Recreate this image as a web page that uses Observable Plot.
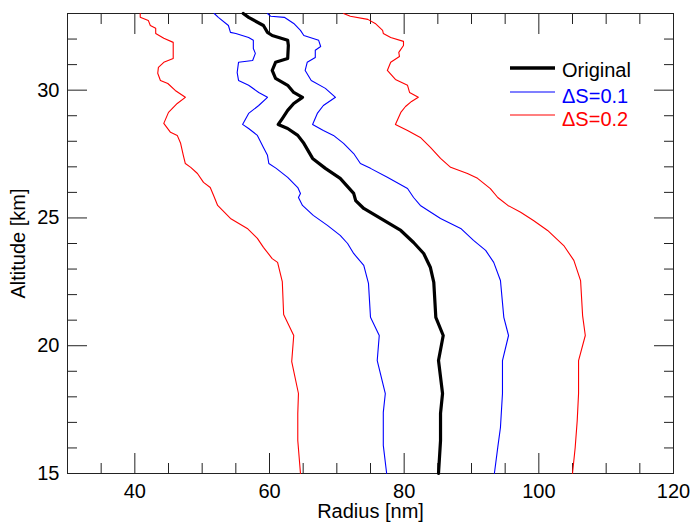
<!DOCTYPE html>
<html>
<head>
<meta charset="utf-8">
<script src="https://cdn.jsdelivr.net/npm/d3@7"></script>
<script src="https://cdn.jsdelivr.net/npm/@observablehq/plot@0.6"></script>
<style>
  html, body { margin: 0; padding: 0; background: #fff; }
  #wrap { position: relative; width: 691px; height: 523px; }
  #legend { position: absolute; left: 0; top: 0; pointer-events: none; }
</style>
</head>
<body>
<div id="wrap"></div>
<script>
// Series: [altitude km, radius nm]
const original = [[33.0,56.1],[32.85,56.9],[32.53,59.1],[32.26,59.7],[32.14,60.4],[31.95,62.7],[31.75,62.8],[31.24,62.7],[31.09,60.9],[30.77,60.4],[30.46,60.9],[30.19,62.7],[29.91,63.6],[29.72,64.9],[29.48,63.6],[29.21,62.7],[28.89,61.9],[28.66,61.3],[28.50,62.7],[28.23,64.2],[27.92,65.1],[27.33,66.4],[26.94,68.3],[26.55,70.5],[25.96,72.5],[25.68,72.8],[25.37,74.0],[24.98,76.5],[24.51,79.5],[24.04,81.4],[23.61,82.9],[23.06,83.9],[22.48,84.4],[21.11,84.7],[20.40,85.8],[19.42,85.1],[18.13,85.7],[17.35,85.4],[16.29,85.4],[15.0,85.1]];
const ds01Low = [[33.0,51.8],[32.85,52.4],[32.53,53.9],[32.26,54.2],[32.22,55.0],[32.06,56.9],[31.95,57.6],[31.63,57.6],[31.44,57.9],[31.16,57.5],[31.09,55.4],[30.69,55.2],[30.38,55.4],[30.19,56.9],[29.91,58.4],[29.72,59.7],[29.40,58.4],[29.09,56.9],[28.66,56.0],[28.50,56.9],[28.23,58.2],[27.76,59.1],[27.45,59.7],[27.13,59.9],[26.94,61.0],[26.59,62.7],[26.19,64.2],[25.96,64.6],[25.80,64.3],[25.49,64.9],[25.10,66.5],[24.71,68.6],[24.32,70.5],[24.00,71.6],[23.61,72.5],[23.14,74.0],[22.44,74.7],[21.11,75.0],[20.40,76.3],[19.42,76.0],[18.13,77.2],[17.39,76.9],[16.10,76.9],[15.0,77.4]];
const ds01High = [[33.0,59.7],[32.89,60.2],[32.85,62.2],[32.61,63.6],[32.34,64.6],[32.14,65.1],[31.95,67.3],[31.71,67.6],[31.56,66.8],[31.28,66.8],[31.09,65.6],[30.77,65.3],[30.38,66.2],[30.07,68.3],[29.72,69.8],[29.40,68.0],[29.09,67.1],[28.66,66.4],[28.42,68.0],[28.23,69.5],[27.92,71.0],[27.52,72.5],[27.13,73.5],[26.94,75.0],[26.59,77.5],[26.15,80.5],[25.80,81.4],[25.49,82.4],[24.98,85.4],[24.59,88.4],[24.12,90.3],[23.73,92.1],[23.26,93.3],[22.55,94.3],[21.11,94.8],[20.40,95.5],[19.42,94.6],[18.13,94.6],[16.80,94.3],[16.02,93.9],[15.0,93.4]];
const ds02Low = [[33.0,40.8],[32.85,40.8],[32.73,42.0],[32.53,42.3],[32.42,43.1],[32.22,43.1],[32.03,44.3],[31.87,45.7],[31.24,45.7],[31.09,44.3],[30.89,43.5],[30.66,43.4],[30.38,43.8],[30.26,44.9],[29.99,46.0],[29.72,47.5],[29.48,46.3],[29.13,45.0],[28.70,44.3],[28.35,45.3],[28.23,46.3],[27.92,46.8],[27.45,47.2],[27.13,47.5],[26.98,48.3],[26.74,49.3],[26.39,50.2],[26.19,51.2],[25.88,51.7],[25.49,52.3],[24.98,54.2],[24.59,56.7],[24.20,58.2],[23.85,59.1],[23.41,60.4],[23.26,61.2],[22.51,61.9],[21.22,62.1],[20.40,63.6],[19.38,63.3],[18.13,64.3],[17.35,64.2],[16.29,64.2],[15.0,64.6]];
const ds02High = [[33.0,71.0],[32.89,72.0],[32.77,74.6],[32.61,75.7],[32.34,76.8],[32.22,76.9],[32.06,78.0],[31.91,79.9],[31.75,79.9],[31.48,79.2],[31.32,79.3],[31.09,78.0],[30.77,77.5],[30.42,78.7],[30.19,80.5],[29.91,80.8],[29.72,82.1],[29.56,81.1],[29.36,80.2],[29.13,79.5],[28.66,78.7],[28.42,80.5],[28.15,82.4],[27.76,83.9],[27.33,85.4],[26.98,86.9],[26.74,89.4],[26.55,90.9],[26.15,92.8],[25.80,93.9],[25.49,95.4],[25.22,97.3],[24.90,99.2],[24.51,101.3],[23.92,103.7],[23.34,105.2],[22.55,106.2],[21.18,106.5],[20.40,106.9],[19.42,105.9],[18.13,105.9],[17.07,105.7],[16.02,105.4],[15.0,105.0]];

const seriesNames = ["Original", "\u0394S=0.1", "\u0394S=0.2"];
const seriesColors = ["#000000", "#0000ff", "#ff0000"];

const xMajor = [40, 60, 80, 100, 120];
const xMinor = [35, 45, 50, 55, 65, 70, 75, 85, 90, 95, 105, 110, 115];
const yMajor = [15, 20, 25, 30];
const yMinor = [16, 17, 18, 19, 21, 22, 23, 24, 26, 27, 28, 29, 31, 32];

const toRows = (arr) => arr.map(([alt, r]) => ({alt, r}));
const axisColor = "#222";
const noText = () => "";

const chart = Plot.plot({
  width: 691,
  height: 523,
  marginLeft: 67,
  marginRight: 18,
  marginTop: 13,
  marginBottom: 50,
  style: {fontFamily: "'Liberation Sans', Arial, Helvetica, sans-serif", fontSize: "20px", color: "#000", background: "#fff"},
  x: {domain: [30, 120], label: null},
  y: {domain: [15, 33], label: null},
  marks: [
    Plot.frame({stroke: axisColor}),
    // bottom axis
    Plot.axisX(xMajor, {anchor: "bottom", tickSize: -20, tickPadding: 30, stroke: axisColor, label: "Radius [nm]", labelAnchor: "center", labelOffset: 44, labelArrow: "none"}),
    Plot.axisX(xMinor, {anchor: "bottom", tickSize: -10, tickFormat: noText, stroke: axisColor, label: null}),
    // top mirrored ticks
    Plot.axisX(xMajor, {anchor: "top", tickSize: -20, tickFormat: noText, stroke: axisColor, label: null}),
    Plot.axisX(xMinor, {anchor: "top", tickSize: -10, tickFormat: noText, stroke: axisColor, label: null}),
    // left axis
    Plot.axisY(yMajor, {anchor: "left", tickSize: -20, tickPadding: 28, stroke: axisColor, label: "Altitude [km]", labelAnchor: "center", labelOffset: 57, labelArrow: "none"}),
    Plot.axisY(yMinor, {anchor: "left", tickSize: -10, tickFormat: noText, stroke: axisColor, label: null}),
    // right mirrored ticks
    Plot.axisY(yMajor, {anchor: "right", tickSize: -20, tickFormat: noText, stroke: axisColor, label: null}),
    Plot.axisY(yMinor, {anchor: "right", tickSize: -10, tickFormat: noText, stroke: axisColor, label: null}),
    // data
    Plot.line(toRows(ds02Low), {x: "r", y: "alt", stroke: seriesColors[2], strokeWidth: 1.1}),
    Plot.line(toRows(ds02High), {x: "r", y: "alt", stroke: seriesColors[2], strokeWidth: 1.1}),
    Plot.line(toRows(ds01Low), {x: "r", y: "alt", stroke: seriesColors[1], strokeWidth: 1.1}),
    Plot.line(toRows(ds01High), {x: "r", y: "alt", stroke: seriesColors[1], strokeWidth: 1.1}),
    Plot.line(toRows(original), {x: "r", y: "alt", stroke: seriesColors[0], strokeWidth: 3.2})
  ]
});

const wrap = document.getElementById("wrap");
wrap.appendChild(chart);

// Legend overlay
const ns = "http://www.w3.org/2000/svg";
const leg = document.createElementNS(ns, "svg");
leg.setAttribute("id", "legend");
leg.setAttribute("width", 691);
leg.setAttribute("height", 523);
const lineYs = [68, 92, 115];
const textYs = [77, 103, 126];
const widths = [3.5, 1.1, 1.1];
seriesNames.forEach((name, i) => {
  const l = document.createElementNS(ns, "line");
  l.setAttribute("x1", 510); l.setAttribute("x2", 555);
  l.setAttribute("y1", lineYs[i]); l.setAttribute("y2", lineYs[i]);
  l.setAttribute("stroke", seriesColors[i]);
  l.setAttribute("stroke-width", widths[i]);
  leg.appendChild(l);
  const t = document.createElementNS(ns, "text");
  t.setAttribute("x", 562); t.setAttribute("y", textYs[i]);
  t.setAttribute("fill", seriesColors[i]);
  t.setAttribute("font-size", 20);
  t.setAttribute("font-family", "'Liberation Sans', Arial, Helvetica, sans-serif");
  t.textContent = name;
  leg.appendChild(t);
});
wrap.appendChild(leg);
</script>
</body>
</html>
